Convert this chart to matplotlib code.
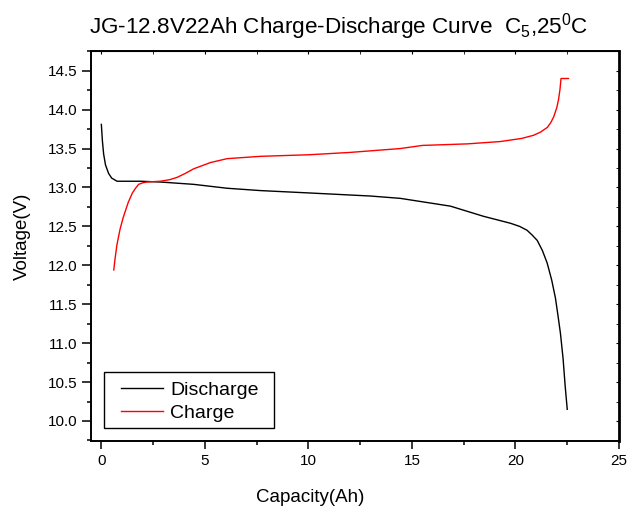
import matplotlib
matplotlib.use('Agg')
import matplotlib.pyplot as plt
from matplotlib.ticker import MultipleLocator
from matplotlib.patches import Rectangle

plt.rcParams['font.family'] = ['Liberation Sans', 'DejaVu Sans']
plt.rcParams['mathtext.fontset'] = 'custom'
plt.rcParams['mathtext.rm'] = 'Liberation Sans'
plt.rcParams['mathtext.it'] = 'Liberation Sans'

# Discharge curve (black)
dis_x = [0.0, 0.05, 0.11, 0.2, 0.35, 0.5, 0.76, 1.2, 1.9, 2.85, 4.46, 6.07, 7.68, 10.0,
         13.0, 14.44, 16.86, 18.45, 19.76, 20.2, 20.56, 20.8, 21.05, 21.3, 21.53, 21.75,
         21.93, 22.05, 22.17, 22.3, 22.4, 22.5]
dis_y = [13.81, 13.6, 13.43, 13.29, 13.18, 13.12, 13.08, 13.08, 13.08, 13.07, 13.04, 12.99,
         12.96, 12.93, 12.89, 12.86, 12.76, 12.63, 12.54, 12.50, 12.45, 12.39, 12.32, 12.19,
         12.03, 11.81, 11.58, 11.36, 11.13, 10.8, 10.45, 10.15]

# Charge curve (red)
chg_x = [0.6, 0.65, 0.75, 0.9, 1.05, 1.3, 1.5, 1.65, 1.8, 2.0, 2.2, 2.85, 3.3, 3.66, 4.05,
         4.46, 5.27, 6.07, 7.68, 10.0, 12.0, 14.44, 15.5, 17.67, 19.27, 20.3, 20.87, 21.2,
         21.53, 21.7, 21.85, 22.0, 22.08, 22.15, 22.2, 22.56]
chg_y = [11.94, 12.06, 12.26, 12.46, 12.61, 12.81, 12.93, 12.99, 13.04, 13.06, 13.07, 13.08,
         13.10, 13.13, 13.18, 13.24, 13.32, 13.37, 13.40, 13.42, 13.45, 13.50, 13.54, 13.56,
         13.59, 13.63, 13.67, 13.71, 13.77, 13.83, 13.91, 14.03, 14.13, 14.26, 14.40, 14.40]

fig = plt.figure(figsize=(6.28, 5.11), dpi=100)
ax = fig.add_axes([91 / 628, 1 - 441 / 511, 528 / 628, 390.3 / 511])

ax.plot(dis_x, dis_y, color='black', lw=1.0, label='Discharge')
ax.plot(chg_x, chg_y, color='red', lw=1.0, label='Charge')

ax.set_xlim(-0.5, 25)
ax.set_ylim(9.743, 14.757)
ax.xaxis.set_major_locator(MultipleLocator(5))
ax.xaxis.set_minor_locator(MultipleLocator(2.5))
ax.yaxis.set_major_locator(MultipleLocator(0.5))
ax.yaxis.set_minor_locator(MultipleLocator(0.25))
ax.yaxis.set_major_formatter(plt.FormatStrFormatter('%.1f'))

ax.tick_params(which='both', direction='out', labelsize=11, width=1.1)
ax.tick_params(axis='x', which='major', length=5.5, pad=4)
ax.tick_params(axis='x', which='minor', length=3)
ax.tick_params(axis='y', which='major', length=6.5, pad=3)
ax.tick_params(axis='y', which='minor', length=3)
for s in ax.spines.values():
    s.set_linewidth(1.4)
ax.spines['right'].set_linewidth(2.0)

# small inward ticks on top and right
axt = ax.secondary_xaxis('top')
axt.xaxis.set_major_locator(MultipleLocator(5))
axt.xaxis.set_minor_locator(MultipleLocator(2.5))
axt.tick_params(which='both', direction='in', labeltop=False, length=2)
axr = ax.secondary_yaxis('right')
axr.yaxis.set_major_locator(MultipleLocator(0.5))
axr.yaxis.set_minor_locator(MultipleLocator(0.25))
axr.tick_params(which='both', direction='in', labelright=False, length=2)

fig.text(310.5 / 628, 1 - 498 / 511, 'Capacity(Ah)', fontsize=13.5, ha='center', va='center')
fig.text(22 / 628, 1 - 236 / 511, 'Voltage(V)', fontsize=13.5, ha='center', va='center',
         rotation=90)
fig.text(339 / 628, 1 - 33.3 / 511, 'JG-12.8V22Ah Charge-Discharge Curve  C$_5$,25$^0$C',
         fontsize=16.2, ha='center', va='baseline')

# legend frame drawn separately, legend entries placed inside
fig.patches.append(Rectangle((104 / 628, 1 - 428.3 / 511), 170 / 628, 56.6 / 511,
                             transform=fig.transFigure, fill=False, ec='black', lw=1.0))
leg = ax.legend(loc='upper left', bbox_to_anchor=(121 / 628, 1 - 381.5 / 511),
                bbox_transform=fig.transFigure, fontsize=14, frameon=False,
                handlelength=2.17, handletextpad=0.36, borderpad=0, borderaxespad=0,
                labelspacing=0.26)

fig.savefig('out.png', dpi=100)
